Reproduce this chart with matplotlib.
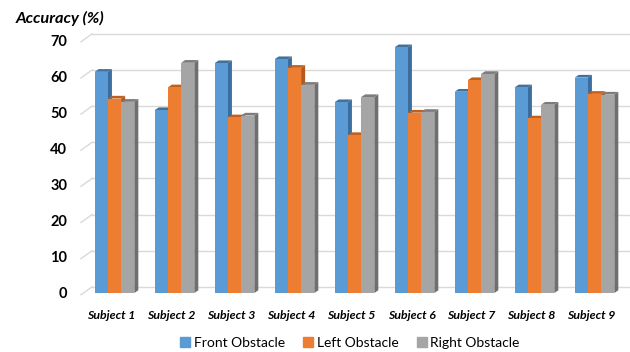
import matplotlib.pyplot as plt
from matplotlib.patches import Polygon
from matplotlib.lines import Line2D

subjects = ["Subject 1", "Subject 2", "Subject 3", "Subject 4", "Subject 5",
            "Subject 6", "Subject 7", "Subject 8", "Subject 9"]
series = ["Front Obstacle", "Left Obstacle", "Right Obstacle"]
front = [61.2, 50.6, 63.6, 64.7, 52.8, 68.0, 55.7, 56.9, 59.6]
left = [53.8, 56.9, 48.6, 62.3, 43.7, 49.9, 58.9, 48.3, 55.1]
right = [52.9, 63.7, 49.1, 57.6, 54.2, 50.1, 60.6, 52.1, 54.9]
yticks = [0, 10, 20, 30, 40, 50, 60, 70]

# front face, side face, top face
colors = [("#5B9BD5", "#3B6E9E", "#41719C"),
          ("#ED7D31", "#B45A1E", "#C0601F"),
          ("#A5A5A5", "#6F6F6F", "#7C7C7C")]

W, H = 630, 352
fig = plt.figure(figsize=(W / 100, H / 100), dpi=100)
# x: one category = 60 px, first group centred at 114.5 px
ax = fig.add_axes([78.5 / W, 59 / H, (W - 78.5) / W, 253 / H])
ax.set_xlim(-0.6, (W - 114.5) / 60)
ax.set_ylim(0, 70)
for s in ax.spines.values():
    s.set_visible(False)

# walls: back gridlines plus the short diagonal on the left wall
back_dy = 1.7
x_front, x_back = (81 - 114.5) / 60, (92 - 114.5) / 60
for v in yticks:
    ax.plot([x_front, x_back], [v - 0.5, v + back_dy], color="#D9D9D9",
            lw=1, clip_on=False, zorder=0)
    ax.plot([x_back, 9.0], [v + back_dy, v + back_dy], color="#D9D9D9",
            lw=1, clip_on=False, zorder=0)

# 3D-looking columns
width = 0.22
dx, dy = 0.067, 0.75
data = [front, left, right]
for k, vals in enumerate(data):
    fc, sc, tc = colors[k]
    xs = [i + (k - 1) * width for i in range(len(subjects))]
    for x, v in zip(xs, vals):
        x0, x1 = x - width / 2, x + width / 2
        ax.add_patch(Polygon([(x1, 0), (x1 + dx, dy), (x1 + dx, v + dy), (x1, v)],
                             closed=True, fc=sc, ec="none", zorder=2 + k,
                             clip_on=False))
        ax.add_patch(Polygon([(x0, v), (x1, v), (x1 + dx, v + dy), (x0 + dx, v + dy)],
                             closed=True, fc=tc, ec="none", zorder=2 + k,
                             clip_on=False))
    ax.bar(xs, vals, width=width, color=fc, zorder=2 + k, linewidth=0)

ax.set_yticks(yticks)
ax.set_yticklabels([str(v) for v in yticks], fontsize=10.5, fontweight="bold",
                   family="Lato")
ax.set_xticks([i - 0.05 for i in range(len(subjects))])
ax.set_xticklabels(subjects, fontsize=8.8, fontweight="bold", style="italic",
                   family="Lato")
ax.tick_params(axis="y", length=0, pad=8)
ax.tick_params(axis="x", length=0, pad=12)

fig.text(16 / W, 1 - 18 / H, "Accuracy (%)", fontsize=11.8, fontweight="bold",
         style="italic", family="Lato", va="center", ha="left")

handles = [Line2D([], [], marker="s", ls="none", color=c[0], markersize=7)
           for c in colors]
fig.legend(handles, series, loc="center", bbox_to_anchor=(349 / W, 9 / H),
           ncol=3, frameon=False, prop={"family": "Lato", "size": 10},
           handletextpad=0.1, columnspacing=1.2, handlelength=1.0)

fig.savefig("out.png", dpi=100)
